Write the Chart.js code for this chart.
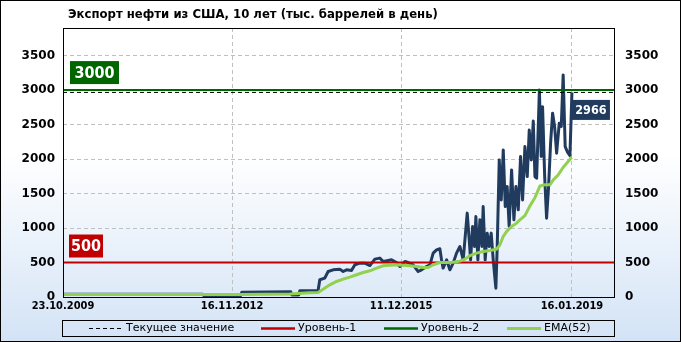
<!DOCTYPE html>
<html>
<head>
<meta charset="utf-8">
<script src="https://cdn.jsdelivr.net/npm/chart.js@4"></script>
<style>
  html, body { margin: 0; padding: 0; background: #fff; }
  #wrap { width: 681px; height: 342px; position: relative; }
</style>
</head>
<body>
<div id="wrap"><canvas id="exportChart"></canvas></div>
<script>
// weeks since 23.10.2009
const xTickWeeks = [0, 160, 320, 481.6];
const xTickLabels = ['23.10.2009', '16.11.2012', '11.12.2015', '16.01.2019'];
const yTicks = [0, 500, 1000, 1500, 2000, 2500, 3000, 3500];

const exportWeeks = [0, 132.3, 133.2, 168.2, 169.2, 215.6, 216.5, 223.1, 224.1, 241.4, 243, 247.7, 250.9, 255.6, 261.9, 265.1, 268.3, 273, 276.2, 280.9, 285.6, 290.4, 295.1, 299.8, 303, 307.7, 310.9, 315.6, 318.8, 323.5, 326.6, 331.3, 336.1, 339.3, 344, 347.2, 350.3, 353.5, 356.6, 358.2, 359.7, 363, 366.1, 369.2, 372.4, 375.6, 378.7, 382.5, 384.4, 385.7, 387.6, 389.5, 390.7, 392.6, 394.5, 396.4, 397.6, 399.5, 401.4, 403.3, 405.2, 407.1, 409.6, 410.9, 412.8, 414.7, 416.6, 418.5, 420.3, 422.2, 424.5, 426.7, 428.6, 430.8, 433, 434.9, 437.1, 439.3, 441.2, 443.1, 445, 446.6, 448.2, 450.8, 452.5, 453.8, 455.8, 457.6, 459.5, 461.4, 463.3, 465.2, 467.1, 469.6, 471.5, 473.3, 475.2, 477.4, 479.7, 481.6];
const exportValues = [40, 40, 20, 20, 70, 75, 30, 30, 90, 95, 250, 273, 370, 394, 404, 370, 394, 384, 467, 491, 491, 456, 549, 564, 515, 529, 539, 500, 442, 515, 500, 467, 370, 394, 442, 467, 636, 684, 700, 539, 419, 539, 394, 491, 636, 732, 539, 1216, 829, 539, 1022, 732, 1167, 539, 1119, 732, 1311, 539, 926, 732, 926, 539, 128, 732, 1988, 1408, 2133, 1311, 1601, 1022, 1843, 1119, 1601, 1264, 2036, 1408, 2181, 1746, 2420, 1988, 2550, 1746, 1723, 3000, 2036, 2760, 1746, 1143, 1601, 2230, 2665, 2471, 2085, 2520, 2471, 3220, 2181, 2100, 2050, 2966];

const emaWeeks = [0, 167.3, 214.6, 233.5, 241.4, 246.1, 252.5, 258.8, 265.1, 271.4, 277.8, 284, 290.4, 296.7, 303, 309.3, 315.6, 321.9, 328.2, 334.6, 340.8, 345.5, 350.3, 356.6, 363, 369.2, 375.6, 380.3, 385.1, 391.4, 397.6, 404, 410.3, 413.4, 416.6, 419.8, 424.5, 429.2, 432.4, 437.1, 441.8, 446.6, 451.3, 456, 460.8, 463.9, 468.6, 473.3, 476.6, 481.3];
const emaValues = [35, 35, 45, 60, 65, 114, 177, 225, 259, 288, 322, 355, 380, 419, 452, 462, 467, 462, 452, 442, 428, 428, 467, 500, 500, 505, 520, 549, 600, 636, 660, 674, 694, 756, 877, 949, 1022, 1071, 1120, 1180, 1320, 1440, 1610, 1626, 1626, 1698, 1771, 1880, 1940, 2027];

const currentValue = 2966;
const level1 = 500;
const level2 = 3000;
const xMax = 521.4;

const NAVY = '#213b5f';
const RED = '#c00000';
const DKGREEN = '#006600';
const EMA_GREEN = '#92d050';

function flatLine(v) {
  return [{ x: 0, y: v }, { x: xMax, y: v }];
}

const chromePlugin = {
  id: 'chrome',
  beforeDraw(chart) {
    const ctx = chart.ctx;
    const w = chart.width, h = chart.height;
    const g = ctx.createLinearGradient(0, 0, 0, h);
    g.addColorStop(0, '#ffffff');
    g.addColorStop(0.45, '#ffffff');
    g.addColorStop(1, '#d3e3f6');
    ctx.save();
    ctx.fillStyle = g;
    ctx.fillRect(0, 0, w, h);
    ctx.restore();
  },
  afterDatasetsDraw(chart) {
    const ctx = chart.ctx;
    const a = chart.chartArea;
    const y = chart.scales.y;
    const x = chart.scales.x;
    ctx.save();

    // level badges
    function badge(text, bx, by, bw, bh, bg, font) {
      ctx.fillStyle = bg;
      ctx.fillRect(bx, by, bw, bh);
      ctx.fillStyle = '#ffffff';
      ctx.font = font;
      ctx.textAlign = 'center';
      ctx.textBaseline = 'middle';
      ctx.fillText(text, bx + bw / 2, by + bh / 2 + 1);
    }
    const big = "bold 16px 'DejaVu Sans Condensed', 'DejaVu Sans'";
    const y2 = y.getPixelForValue(level2);
    badge(String(level2), a.left + 7, y2 - 29, 49, 23, DKGREEN, big);
    const y1 = y.getPixelForValue(level1);
    badge(String(level1), a.left + 6, y1 - 28, 34, 23, RED, big);
    const lastX = x.getPixelForValue(exportWeeks[exportWeeks.length - 1]);
    const yc = y.getPixelForValue(currentValue);
    badge(String(currentValue), lastX, yc + 7.5, 38, 20, NAVY, "bold 12.5px 'DejaVu Sans Condensed', 'DejaVu Sans'");

    // plot frame
    ctx.strokeStyle = '#000';
    ctx.lineWidth = 1;
    ctx.strokeRect(Math.round(a.left) + 0.5, Math.round(a.top) + 0.5, Math.round(a.right - a.left), Math.round(a.bottom - a.top));
    ctx.restore();
  },
  afterDraw(chart) {
    const ctx = chart.ctx;
    const a = chart.chartArea;
    ctx.save();
    // title
    ctx.fillStyle = '#000';
    ctx.font = "bold 11.7px 'DejaVu Sans'";
    ctx.textAlign = 'left';
    ctx.textBaseline = 'middle';
    ctx.fillText('Экспорт нефти из США, 10 лет (тыс. баррелей в день)', a.left + 5, 14.5);

    // legend
    const lx = 62.5, ly = 320.5, lw = 552, lh = 16;
    ctx.strokeStyle = '#000';
    ctx.lineWidth = 1;
    ctx.strokeRect(lx, ly, lw, lh);
    const items = [
      { label: 'Текущее значение', color: '#000', width: 1, dash: [4, 3], x: 89 },
      { label: 'Уровень-1', color: RED, width: 2.5, dash: [], x: 261 },
      { label: 'Уровень-2', color: DKGREEN, width: 2.5, dash: [], x: 384 },
      { label: 'EMA(52)', color: EMA_GREEN, width: 3, dash: [], x: 507 }
    ];
    const cy = 328.5;
    ctx.font = "11px 'DejaVu Sans'";
    ctx.textBaseline = 'middle';
    items.forEach(function (it) {
      ctx.beginPath();
      ctx.setLineDash(it.dash);
      ctx.strokeStyle = it.color;
      ctx.lineWidth = it.width;
      ctx.moveTo(it.x, cy);
      ctx.lineTo(it.x + 34, cy);
      ctx.stroke();
      ctx.setLineDash([]);
      ctx.fillStyle = '#000';
      ctx.fillText(it.label, it.x + 37, cy);
    });

    // outer frame
    ctx.strokeStyle = '#000';
    ctx.lineWidth = 1;
    ctx.strokeRect(0.5, 0.5, chart.width - 1, chart.height - 1);
    ctx.restore();
  }
};

const ctx = document.getElementById('exportChart').getContext('2d');

const yTickFont = { family: "'DejaVu Sans'", size: 12, weight: 'bold' };

new Chart(ctx, {
  type: 'line',
  data: {
    datasets: [
      {
        label: 'EMA(52)',
        data: emaWeeks.map((w, i) => ({ x: w, y: emaValues[i] })),
        borderColor: EMA_GREEN,
        borderWidth: 3,
        pointRadius: 0,
        order: 0
      },
      {
        label: 'Текущее значение',
        data: flatLine(currentValue),
        borderColor: '#000',
        borderWidth: 1,
        borderDash: [4, 3],
        pointRadius: 0,
        order: 1
      },
      {
        label: 'Уровень-1',
        data: flatLine(level1),
        borderColor: RED,
        borderWidth: 2,
        pointRadius: 0,
        order: 2
      },
      {
        label: 'Уровень-2',
        data: flatLine(level2),
        borderColor: DKGREEN,
        borderWidth: 2,
        pointRadius: 0,
        order: 2
      },
      {
        label: 'Экспорт',
        data: exportWeeks.map((w, i) => ({ x: w, y: exportValues[i] })),
        borderColor: NAVY,
        borderWidth: 3,
        borderJoinStyle: 'round',
        pointRadius: 0,
        order: 3
      }
    ]
  },
  options: {
    responsive: true,
    maintainAspectRatio: false,
    animation: false,
    layout: { padding: { top: 28, left: 0, right: 0, bottom: 0 } },
    plugins: {
      legend: { display: false },
      title: { display: false },
      tooltip: { enabled: false }
    },
    scales: {
      x: {
        type: 'linear',
        min: 0,
        max: xMax,
        afterBuildTicks: function (scale) {
          scale.ticks = xTickWeeks.map(v => ({ value: v }));
        },
        afterFit: function (scale) { scale.height = 45; },
        grid: { color: '#c0c0c0', drawTicks: false },
        border: { display: false, dash: [4, 3] },
        ticks: {
          autoSkip: false,
          maxRotation: 0,
          padding: 3,
          color: '#000',
          font: { family: "'DejaVu Sans Condensed', 'DejaVu Sans'", size: 11, weight: 'bold' },
          callback: function (value, index) { return xTickLabels[index]; }
        }
      },
      y: {
        position: 'left',
        min: 0,
        max: 3900,
        afterBuildTicks: function (scale) {
          scale.ticks = yTicks.map(v => ({ value: v }));
        },
        afterFit: function (scale) { scale.width = 63; },
        grid: { color: '#c0c0c0', drawTicks: false },
        border: { display: false, dash: [4, 3] },
        ticks: {
          padding: 8,
          color: '#000',
          font: yTickFont,
          callback: function (value) { return String(value); }
        }
      },
      y2: {
        position: 'right',
        min: 0,
        max: 3900,
        afterBuildTicks: function (scale) {
          scale.ticks = yTicks.map(v => ({ value: v }));
        },
        afterFit: function (scale) { scale.width = 67; },
        grid: { display: false, drawTicks: false },
        border: { display: false },
        ticks: {
          padding: 11,
          color: '#000',
          font: yTickFont,
          callback: function (value) { return String(value); }
        }
      }
    }
  },
  plugins: [chromePlugin]
});
</script>
</body>
</html>
